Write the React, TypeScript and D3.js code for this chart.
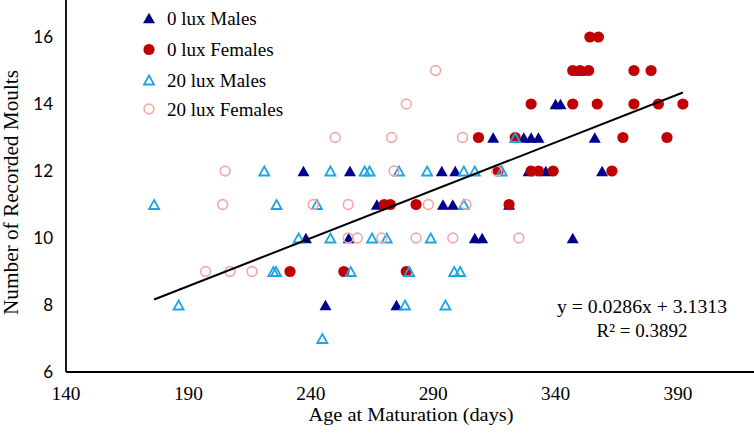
import React from "react";
import * as d3 from "d3";

const xTicks = [140, 190, 240, 290, 340, 390];
const yTicks = [6, 8, 10, 12, 14, 16];

// 0 lux Males
const males0: [number, number][] = [
  [237, 12], [256, 12], [293.5, 12], [299, 12], [329, 12], [336, 12], [359, 12],
  [314.5, 13], [327, 13], [330, 13], [333, 13], [356, 13],
  [340, 14], [342, 14], [350, 15],
  [267, 11], [294, 11], [298, 11], [321, 11],
  [238, 10], [255.5, 10], [307, 10], [310, 10], [347, 10],
  [246, 8], [275, 8],
];
// 0 lux Females
const females0: [number, number][] = [
  [354, 16], [357.5, 16],
  [347, 15], [350, 15], [353.5, 15], [372, 15], [379, 15],
  [330, 14], [347, 14], [357, 14], [372, 14], [382, 14], [392, 14],
  [308.5, 13], [323.5, 13], [367.5, 13], [385.5, 13],
  [316.5, 12], [330, 12], [333, 12], [339, 12], [363, 12],
  [270, 11], [272.5, 11], [283, 11], [321, 11],
  [231.5, 9], [253.5, 9], [279, 9],
];
// 20 lux Males
const males20: [number, number][] = [
  [221, 12], [248, 12], [262, 12], [264, 12], [276, 12], [287.5, 12], [302.5, 12], [307, 12], [318, 12],
  [323.5, 13],
  [176, 11], [226, 11], [242.5, 11], [302.5, 11],
  [235, 10], [248, 10], [265, 10], [271, 10], [289, 10],
  [224.7, 9], [225.8, 9], [256.3, 9], [280.2, 9], [298.6, 9], [301, 9],
  [186, 8], [278.5, 8], [295, 8],
  [244.7, 7],
];
// 20 lux Females
const females20: [number, number][] = [
  [291, 15], [279, 14],
  [250, 13], [273, 13], [302, 13],
  [205, 12], [274, 12], [316, 12],
  [204, 11], [241, 11], [255.3, 11], [288, 11], [303.4, 11],
  [255.3, 10], [259, 10], [269, 10], [283, 10], [298, 10], [325, 10],
  [197, 9], [207, 9], [216, 9],
];

const slope = 0.0286;
const intercept = 3.1313;

const NAVY = "#00008f";
const RED = "#c00000";
const CYAN = "#1aa6e4";
const PINK = "#f4a7a7";

const serif = "'Liberation Serif', 'Times New Roman', serif";
const sans = "Lato, 'Open Sans', sans-serif";

function tri(cx: number, cy: number, w: number, h: number) {
  return `M${cx},${cy - h / 2}L${cx + w / 2},${cy + h / 2}L${cx - w / 2},${cy + h / 2}Z`;
}

export default function App() {
  const W = 754, H = 436;
  const x = d3.scaleLinear().domain([140, 390]).range([66, 678]);
  const y = d3.scaleLinear().domain([6, 16]).range([372, 37]);
  const all = [...males0, ...females0, ...males20, ...females20];
  const [xmin, xmax] = d3.extent(all, (d) => d[0]) as [number, number];
  const line = d3.line<number>().x((v) => x(v)).y((v) => y(slope * v + intercept));

  const legend = [
    { label: "0 lux Males", kind: "m0" },
    { label: "0 lux Females", kind: "f0" },
    { label: "20 lux Males", kind: "m20" },
    { label: "20 lux Females", kind: "f20" },
  ];
  const legendY = [18, 49.5, 80, 109];

  const marker = (kind: string, cx: number, cy: number, key: string | number) => {
    if (kind === "m0") return <path key={key} d={tri(cx, cy, 12, 10.5)} fill={NAVY} />;
    if (kind === "f0") return <circle key={key} cx={cx} cy={cy} r={5.6} fill={RED} />;
    if (kind === "m20")
      return <path key={key} d={tri(cx, cy, 10, 9)} fill="none" stroke={CYAN} strokeWidth={1.8} />;
    return <circle key={key} cx={cx} cy={cy} r={4.9} fill="none" stroke={PINK} strokeWidth={1.6} />;
  };

  return (
    <svg width={W} height={H} style={{ position: "absolute", left: 0, top: 0, background: "#fff" }}>
      {/* axes */}
      <line x1={66} x2={66} y1={0} y2={372} stroke="#000" strokeWidth={1.8} />
      <line x1={66} x2={754} y1={372} y2={372} stroke="#000" strokeWidth={1.8} />
      {yTicks.map((t) => (
        <text key={t} x={53} y={y(t) + 6} textAnchor="end" fontFamily={sans} fontSize={17} fill="#000">
          {t}
        </text>
      ))}
      {xTicks.map((t) => (
        <text key={t} x={x(t)} y={400} textAnchor="middle" fontFamily={serif} fontSize={18} fill="#000"
          textLength={29} lengthAdjust="spacingAndGlyphs">
          {t}
        </text>
      ))}
      <text x={411} y={421} textAnchor="middle" fontFamily={serif} fontSize={18} fill="#000"
        textLength={205} lengthAdjust="spacingAndGlyphs">
        Age at Maturation (days)
      </text>
      <text
        transform={`translate(18,192.5) rotate(-90)`}
        textAnchor="middle"
        fontFamily={serif}
        fontSize={20}
        fill="#000"
        textLength={245}
        lengthAdjust="spacingAndGlyphs"
      >
        Number of Recorded Moults
      </text>

      {/* points */}
      <g>{males0.map((d, i) => marker("m0", x(d[0]), y(d[1]), "a" + i))}</g>
      <g>{females0.map((d, i) => marker("f0", x(d[0]), y(d[1]), "b" + i))}</g>
      <g>{males20.map((d, i) => marker("m20", x(d[0]), y(d[1]), "c" + i))}</g>
      <g>{females20.map((d, i) => marker("f20", x(d[0]), y(d[1]), "d" + i))}</g>

      {/* trendline */}
      <path d={line([xmin, xmax]) || ""} stroke="#000" strokeWidth={2} fill="none" />

      {/* equation */}
      <text x={642} y={313} textAnchor="middle" fontFamily={serif} fontSize={19.5} fill="#000"
        textLength={170} lengthAdjust="spacingAndGlyphs">
        y = 0.0286x + 3.1313
      </text>
      <text x={642} y={337} textAnchor="middle" fontFamily={serif} fontSize={19.5} fill="#000"
        textLength={91} lengthAdjust="spacingAndGlyphs">
        R² = 0.3892
      </text>

      {/* legend */}
      {legend.map((l, i) => (
        <g key={l.label}>
          {marker(l.kind, 149, legendY[i], "l" + i)}
          <text x={167} y={legendY[i] + 6.5} fontFamily={serif} fontSize={19} fill="#000">
            {l.label}
          </text>
        </g>
      ))}
    </svg>
  );
}
